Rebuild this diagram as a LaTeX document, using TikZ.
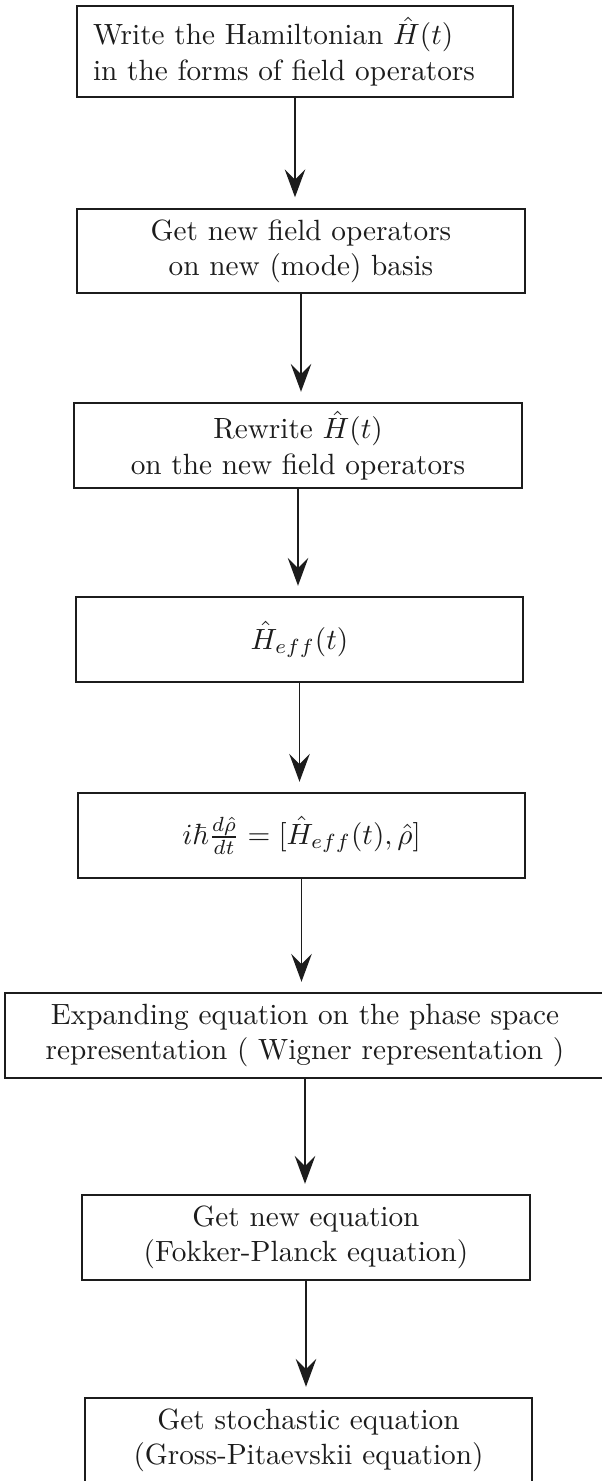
\documentclass[tikz,border=0pt]{standalone}
\usepackage{amsmath}
\usepackage{amssymb}
\usepackage{xcolor}
\usepackage{tikz}
\usetikzlibrary{arrows.meta}
\definecolor{inkgray}{HTML}{1C1C1C}

\begin{document}
\begin{tikzpicture}[x=0.01201cm, y=-0.01201cm,
  stepbox/.style={draw=inkgray, line width=0.7pt, text=inkgray, minimum width=5.37cm, minimum height=1.02cm, align=center, inner sep=0pt},
  flow/.style={draw=inkgray, line width=0.55pt, -{Stealth[length=9.5pt, width=7pt, inset=3.5pt]}, shorten >=3.5pt}]
  \useasboundingbox (0,0) rectangle (601,1481);
  \node[stepbox, minimum width=5.24cm, minimum height=1.09cm, text width=4.85cm, align=left] (ham) at (295,51.5)
    {Write the Hamiltonian $\hat{H}(t)$\\ in the forms of field operators};
  \node[stepbox] (modes) at (301,251) {Get new field operators\\ on new (mode) basis};
  \node[stepbox] (rewrite) at (298,445.5) {Rewrite $\hat{H}(t)$\\ on the new field operators};
  \node[stepbox] (heff) at (299.5,639.5) {$\hat{H}_{eff}(t)$};
  \node[stepbox] (liouville) at (301.5,835.5) {$i\hbar\frac{d\hat{\rho}}{dt}=[\hat{H}_{eff}(t),\hat{\rho}]$};
  \node[stepbox, minimum width=7.21cm] (wigner) at (305,1035.5)
    {Expanding equation on the phase space\\ representation ( Wigner representation )};
  \node[stepbox] (fokker) at (306,1237.5) {Get new equation\\ (Fokker-Planck equation)};
  \node[stepbox] (gpe) at (308.5,1440.5) {Get stochastic equation\\ (Gross-Pitaevskii equation)};
  \foreach \a/\b in {ham/modes, modes/rewrite, rewrite/heff, heff/liouville,
                     liouville/wigner, wigner/fokker, fokker/gpe}
    \draw[flow] (\a.south) -- (\a.south |- \b.north);
\end{tikzpicture}
\end{document}
